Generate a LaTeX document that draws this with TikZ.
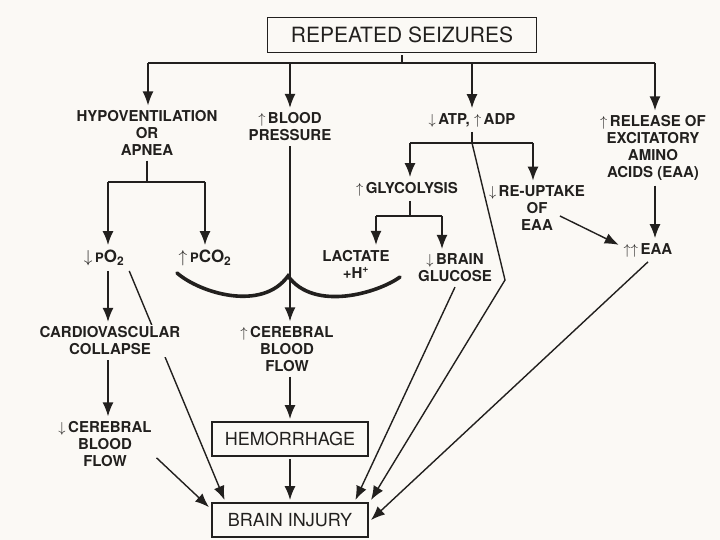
\documentclass[tikz,border=0pt]{standalone}
\usepackage{fontspec}
\setmainfont{TeX Gyre Heros}
\usetikzlibrary{arrows.meta,backgrounds}
\definecolor{paper}{RGB}{251,249,245}
\definecolor{ink}{RGB}{34,32,30}
\newcommand\UpArr{$\uparrow$\,}
\newcommand\DnArr{$\downarrow$\,}

\begin{document}
\begin{tikzpicture}[x=1pt, y=-1pt, color=ink]
      \tikzstyle{link} = [->, >={Latex[length=14pt,width=11pt]}, line width=1.4pt, color=ink]
      \tikzstyle{word} = [font=\bfseries\fontsize{15}{17}\selectfont, align=center, inner sep=2pt, outer sep=3pt]
      \tikzstyle{gas} = [word, font=\bfseries\fontsize{17}{17}\selectfont]
      \tikzstyle{box} = [draw, line width=1.4pt, minimum width=156pt, minimum height=34pt, inner sep=0pt,
        outer sep=3pt, fill=paper, font=\fontsize{18}{18}\selectfont]
      \useasboundingbox (0,0) rectangle (720,540);
      \node (seiz) [box, minimum width=269pt, minimum height=35pt, font=\fontsize{21}{21}\selectfont] at (402,35) {REPEATED SEIZURES};
      \node (hypo) [word] at (147,133) {HYPOVENTILATION\\OR\\APNEA};
      \node (bp) [word] at (290,127) {\UpArr BLOOD\\PRESSURE};
      \node (atp) [word] at (472,120) {\DnArr ATP, \UpArr ADP};
      \node (rel) [word] at (653,148) {\UpArr RELEASE OF\\EXCITATORY\\AMINO\\ACIDS (EAA)};
      \node (po2) [gas] at (104,258) {\DnArr{\fontsize{13}{13}\selectfont P}O\textsubscript{2}};
      \node (pco2) [gas] at (205,258) {\UpArr{\fontsize{13}{13}\selectfont P}CO\textsubscript{2}};
      \node (glyc) [word] at (407,189) {\UpArr GLYCOLYSIS};
      \node (reup) [word] at (537,208) {\DnArr RE-UPTAKE\\OF\\EAA};
      \node (lac) [word] at (356,264) {LACTATE\\+H\textsuperscript{+}};
      \node (gluc) [word] at (455,268) {\DnArr BRAIN\\GLUCOSE};
      \node (eaa) [word] at (648,250) {$\uparrow\uparrow$\,EAA};
      \node (cardio) [word, fill=paper] at (110,341) {CARDIOVASCULAR\\COLLAPSE};
      \node (cbfup) [word] at (287,349) {\UpArr CEREBRAL\\BLOOD\\FLOW};
      \node (cbfdn) [word] at (105,444) {\DnArr CEREBRAL\\BLOOD\\FLOW};
      \node (hem) [box] at (290,439) {HEMORRHAGE};
      \node (bi) [box] at (290,520) {BRAIN INJURY};
      \coordinate (tj) at (402,63);
      \coordinate (tl) at (148,63);
      \coordinate (tr) at (655,63);
      \coordinate (hj) at (147,182);
      \coordinate (hl) at (108,182);
      \coordinate (hr) at (205,182);
      \coordinate (aj) at (472,143);
      \coordinate (al) at (410,143);
      \coordinate (ar) at (533,143);
      \coordinate (gj) at (410,216);
      \coordinate (gl) at (376,216);
      \coordinate (gr) at (442,216);
      \coordinate (bend) at (505,280);
      \begin{scope}[on background layer]
      \fill[paper] (0,0) rectangle (720,540);
      \begin{scope}[link]
        \draw[-] (seiz) -- (tj);
        \draw[-] (tl) -- (tr);
        \draw (tl) -- (tl |- hypo.north);
        \draw (bp.north |- tl) -- (bp.north);
        \draw (atp.north |- tl) -- (atp.north);
        \draw (tr) -- (tr |- rel.north);
        \draw[-] (hj |- hypo.south) -- (hj);
        \draw[-] (hl) -- (hr);
        \draw (hl) -- (hl |- po2.north);
        \draw (hr) -- (hr |- pco2.north);
        \draw (bp.south) -- (bp.south |- cbfup.north);
        \draw[-] (aj |- atp.south) -- (aj);
        \draw[-] (al) -- (ar);
        \draw (al) -- (al |- glyc.north);
        \draw (ar) -- (ar |- reup.north);
        \draw (aj) -- (bend) -- (bi.north east);
        \draw[-] (gj |- glyc.south) -- (gj);
        \draw[-] (gl) -- (gr);
        \draw (gl) -- (gl |- lac.north);
        \draw (gr) -- (gr |- gluc.north);
        \draw (gluc.south) -- (bi.17);
        \draw ([xshift=-30pt,yshift=-8pt]reup.east) -- (eaa.170);
        \draw (tr |- rel.south) -- (tr |- eaa.north);
        \draw (eaa.south) -- (bi.east);
        \draw (hl |- po2.south) -- (hl |- cardio.north);
        \draw (hl |- cardio.south) -- (hl |- cbfdn.north);
        \draw (po2.south east) -- (bi.163);
        \draw (cbfdn.-15) -- (bi.171);
        \draw (bp.south |- cbfup.south) -- (bp.south |- hem.north);
        \draw (hem) -- (bi);
      \end{scope}
      \end{scope}
      \draw[line width=3.6pt, line cap=round] (177,273) .. controls (200,293) and (262,312) .. (288,276)
        .. controls (314,312) and (378,293) .. (400,277);
    \end{tikzpicture}
\end{document}
